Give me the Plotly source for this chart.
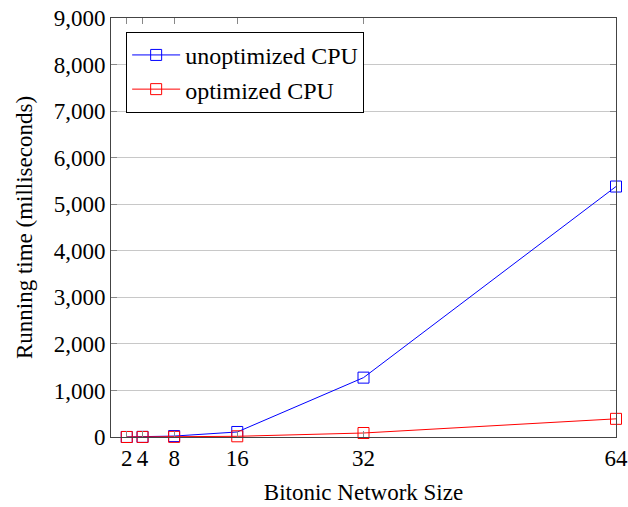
import plotly.graph_objects as go

# Bitonic network sizes and measured running times (ms)
sizes = [2, 4, 8, 16, 32, 64]
unoptimized_ms = [1, 3, 20, 108, 1275, 5380]
optimized_ms = [0, 1, 3, 15, 86, 390]

y_ticks = [0, 1000, 2000, 3000, 4000, 5000, 6000, 7000, 8000, 9000]

FONT = "Liberation Serif"
FS = 23

fig = go.Figure()
fig.add_trace(go.Scatter(
    x=sizes, y=unoptimized_ms, name="unoptimized CPU", mode="lines+markers",
    line=dict(color="blue", width=1),
    marker=dict(symbol="square-open", size=11, color="blue", line=dict(width=1)),
    cliponaxis=False,
))
fig.add_trace(go.Scatter(
    x=sizes, y=optimized_ms, name="optimized CPU", mode="lines+markers",
    line=dict(color="red", width=1),
    marker=dict(symbol="square-open", size=11, color="red", line=dict(width=1)),
    cliponaxis=False,
))

fig.update_layout(
    width=628, height=507,
    margin=dict(l=111, r=12, t=18, b=70),
    paper_bgcolor="white", plot_bgcolor="white",
    font=dict(family=FONT, size=FS, color="black"),
    showlegend=True,
    legend=dict(
        x=0.03, y=0.967, xanchor="left", yanchor="top",
        bordercolor="black", borderwidth=1, bgcolor="white",
        font=dict(family=FONT, size=24),
        tracegroupgap=0, itemwidth=48,
    ),
)
fig.update_xaxes(
    range=[0, 64], tickvals=sizes, ticktext=[str(s) for s in sizes],
    showgrid=False, zeroline=False, automargin=False,
    showline=True, linecolor="#444", linewidth=1, mirror="ticks",
    ticks="inside", ticklen=6, tickcolor="#888", tickwidth=1,
    title=dict(text="Bitonic Network Size", standoff=14, font=dict(size=FS)),
    tickfont=dict(size=FS),
)
fig.update_yaxes(
    range=[0, 9000], tickvals=y_ticks, tickformat=",",
    showgrid=True, gridcolor="#c8c8c8", gridwidth=1, zeroline=False,
    automargin=False,
    showline=True, linecolor="#444", linewidth=1, mirror="ticks",
    ticks="inside", ticklen=6, tickcolor="#888", tickwidth=1,
    title=dict(text="Running time (milliseconds)", standoff=14, font=dict(size=FS)),
    tickfont=dict(size=FS),
)

fig.write_html("out.html")
